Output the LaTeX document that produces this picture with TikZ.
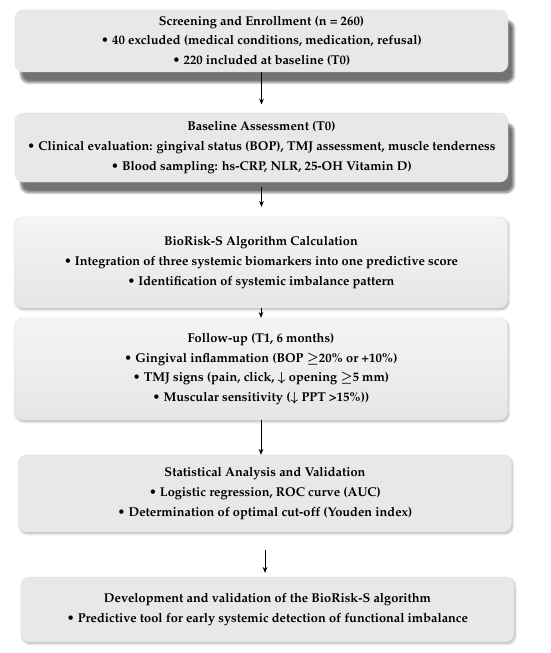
\documentclass[tikz,border=0pt]{standalone}
\usepackage[T1]{fontenc}
\usepackage{mathpazo}
\usepackage{tikz}
\usetikzlibrary{arrows.meta, positioning, shadows.blur}

\begin{document}
\begin{tikzpicture}[
      x=0.03cm, y=-0.03cm,
      stepbox/.style = {
        rectangle, rounded corners=7pt,
        draw=gray!25, line width=0.3pt, fill=gray!18,
        minimum width=14.79cm, align=center, text=black,
        font=\fontsize{10.9}{16.8}\selectfont\bfseries\boldmath
      },
      deepshadow/.style = {
        blur shadow={shadow blur steps=10, shadow xshift=5pt, shadow yshift=-9pt,
                     shadow opacity=55, shadow blur extra rounding=4pt}
      },
      softshadow/.style = {
        blur shadow={shadow blur steps=5, shadow xshift=1pt, shadow yshift=-1.5pt,
                     shadow opacity=30}
      },
      arr/.style = {-{Stealth[length=5pt,width=4pt]}, line width=0.6pt, color=black}
    ]

      % fixed page frame
      \useasboundingbox (0,0) rectangle (550,653);

      % ===================== Steps =====================
      \node[stepbox, deepshadow, minimum height=1.86cm] (screen) at (261.5,41)
        {Screening and Enrollment (n = 260)\\
         \textbullet\ 40 excluded (medical conditions, medication, refusal)\\
         \textbullet\ 220 included at baseline (T0)};

      \node[stepbox, deepshadow, minimum height=2.07cm] (base) at (261.5,147.5)
        {Baseline Assessment (T0)\\
         \textbullet\ Clinical evaluation: gingival status (BOP), TMJ assessment, muscle tenderness\\
         \textbullet\ Blood sampling: hs-CRP, NLR, 25-OH Vitamin D)};

      \node[stepbox, softshadow, top color=gray!8, bottom color=gray!20,
            minimum height=2.73cm] (calc) at (261,262.5)
        {BioRisk-S Algorithm Calculation\\
         \textbullet\ Integration of three systemic biomarkers into one predictive score\\
         \textbullet\ Identification of systemic imbalance pattern};

      \node[stepbox, softshadow, top color=gray!8, bottom color=gray!20,
            minimum height=3.06cm] (follow) at (261,369)
        {Follow-up (T1, 6 months)\\
         \textbullet\ Gingival inflammation (BOP $\geq$20\% or +10\%)\\
         \textbullet\ TMJ signs (pain, click, $\downarrow$ opening $\geq$5 mm)\\
         \textbullet\ Muscular sensitivity ($\downarrow$ PPT >15\%))};

      \node[stepbox, softshadow, minimum height=2.31cm] (stats) at (265,493.5)
        {Statistical Analysis and Validation\\
         \textbullet\ Logistic regression, ROC curve (AUC)\\
         \textbullet\ Determination of optimal cut-off (Youden index)};

      \node[stepbox, softshadow, minimum height=1.95cm] (devel) at (267.5,609.5)
        {Development and validation of the BioRisk-S algorithm\\
         \textbullet\ Predictive tool for early systemic detection of functional imbalance};

      % ===================== Flow =====================
      \draw[arr, shorten >=0.25cm] (screen.south) -- (screen.south |- base.north);
      \draw[arr, shorten <=0.15cm, shorten >=0.3cm] (base.south) -- (base.south |- calc.north);
      \draw[arr] (calc.south) -- (calc.south |- follow.north);
      \draw[arr] (follow.south) -- (follow.south |- stats.north);
      \draw[arr, shorten <=0.54cm, shorten >=0.12cm] (stats.south) -- (stats.south |- devel.north);

    \end{tikzpicture}
\end{document}
